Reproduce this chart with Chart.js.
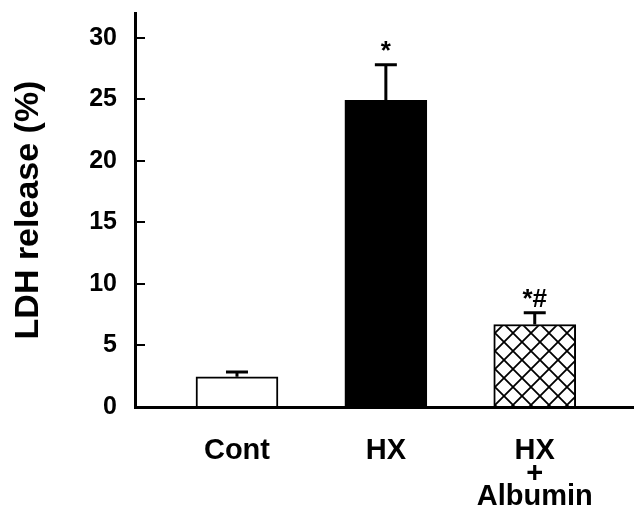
<!DOCTYPE html>
<html>
<head>
<meta charset="utf-8">
<script src="https://cdn.jsdelivr.net/npm/chart.js@4.4.1/dist/chart.umd.min.js"></script>
<style>
  html, body { margin: 0; padding: 0; background: #fff; }
  canvas { display: block; }
</style>
</head>
<body>
<canvas id="ldhChart" width="635" height="523"></canvas>
<script>
// values
const categories = ['Cont', 'HX', 'HX + Albumin'];
const tickLabels = [['Cont'], ['HX'], ['HX', '+', 'Albumin']];
const ldhRelease = [2.45, 24.9, 6.7];
const ldhError = [0.4, 2.9, 0.95];
const marks = ['', '*', '*#'];
const yTicks = [0, 5, 10, 15, 20, 25, 30];

const FONT = '"Liberation Sans", Arial, Helvetica, sans-serif';

// cross-hatch fill for the albumin bar
function makeHatch() {
    const size = 18;
    const c = document.createElement('canvas');
    c.width = size;
    c.height = size;
    const g = c.getContext('2d');
    g.fillStyle = '#fff';
    g.fillRect(0, 0, size, size);
    g.strokeStyle = '#000';
    g.lineWidth = 1.8;
    g.beginPath();
    g.moveTo(0, 0); g.lineTo(size, size);
    g.moveTo(size, 0); g.lineTo(0, size);
    g.stroke();
    return g.createPattern(c, 'repeat');
}
const hatch = makeHatch();

// upward error bars with cap, plus significance marks
const errorBars = {
    id: 'errorBars',
    afterDatasetsDraw(chart) {
        const ctx = chart.ctx;
        const yScale = chart.scales.y;
        const meta = chart.getDatasetMeta(0);
        ctx.save();
        ctx.strokeStyle = '#000';
        ctx.lineWidth = 3;
        ctx.fillStyle = '#000';
        ctx.font = 'bold 26px ' + FONT;
        ctx.textAlign = 'center';
        ctx.textBaseline = 'middle';
        meta.data.forEach((bar, i) => {
            const top = yScale.getPixelForValue(ldhRelease[i] + ldhError[i]);
            ctx.beginPath();
            ctx.moveTo(bar.x, bar.y);
            ctx.lineTo(bar.x, top);
            ctx.moveTo(bar.x - 11, top);
            ctx.lineTo(bar.x + 11, top);
            ctx.stroke();
            if (marks[i]) {
                ctx.fillText(marks[i], bar.x, top - 13);
            }
        });
        ctx.restore();
    }
};

const ctx = document.getElementById('ldhChart').getContext('2d');

new Chart(ctx, {
    type: 'bar',
    data: {
        datasets: [{
            label: 'LDH release (%)',
            data: categories.map((c, i) => ({ x: i + 1, y: ldhRelease[i] })),
            backgroundColor: ['#ffffff', '#000000', hatch],
            borderColor: '#000',
            borderWidth: 2,
            barThickness: 82,
        }],
    },
    options: {
        responsive: false,
        animation: false,
        layout: {
            padding: { top: 13, right: 2, left: 0, bottom: 0 },
        },
        plugins: {
            legend: { display: false },
            tooltip: { enabled: false },
        },
        scales: {
            x: {
                type: 'linear',
                min: 0.315,
                max: 3.66,
                offset: false,
                grid: { display: false, drawTicks: false, offset: false },
                border: { display: true, color: '#000', width: 3 },
                afterBuildTicks: (scale) => {
                    scale.ticks = categories.map((c, i) => ({ value: i + 1 }));
                },
                afterFit: (scale) => {
                    scale.height = 116;
                    scale.paddingLeft = 0;
                    scale.paddingRight = 0;
                },
                ticks: {
                    autoSkip: false,
                    maxRotation: 0,
                    padding: 32,
                    color: '#000',
                    font: { family: FONT, size: 29, weight: 'bold', lineHeight: '23px' },
                    callback: (value) => tickLabels[value - 1],
                },
            },
            y: {
                min: 0,
                max: 32,
                afterBuildTicks: (scale) => {
                    scale.ticks = yTicks.map(v => ({ value: v }));
                },
                afterFit: (scale) => {
                    scale.width = 135;
                    scale.paddingTop = 0;
                    scale.paddingBottom = 0;
                },
                grid: {
                    display: true,
                    drawOnChartArea: false,
                    drawTicks: true,
                    tickLength: -10,  // ticks point into the plot
                    color: '#000',
                    lineWidth: 2,
                },
                border: { display: true, color: '#000', width: 3 },
                ticks: {
                    padding: 28,
                    color: '#000',
                    font: { family: FONT, size: 25, weight: 'bold' },
                },
                title: {
                    display: true,
                    text: 'LDH release (%)',
                    color: '#000',
                    padding: { top: 8, bottom: 0 },
                    font: { family: FONT, size: 34, weight: 'bold' },
                },
            },
        },
    },
    plugins: [errorBars],
});
</script>
</body>
</html>
